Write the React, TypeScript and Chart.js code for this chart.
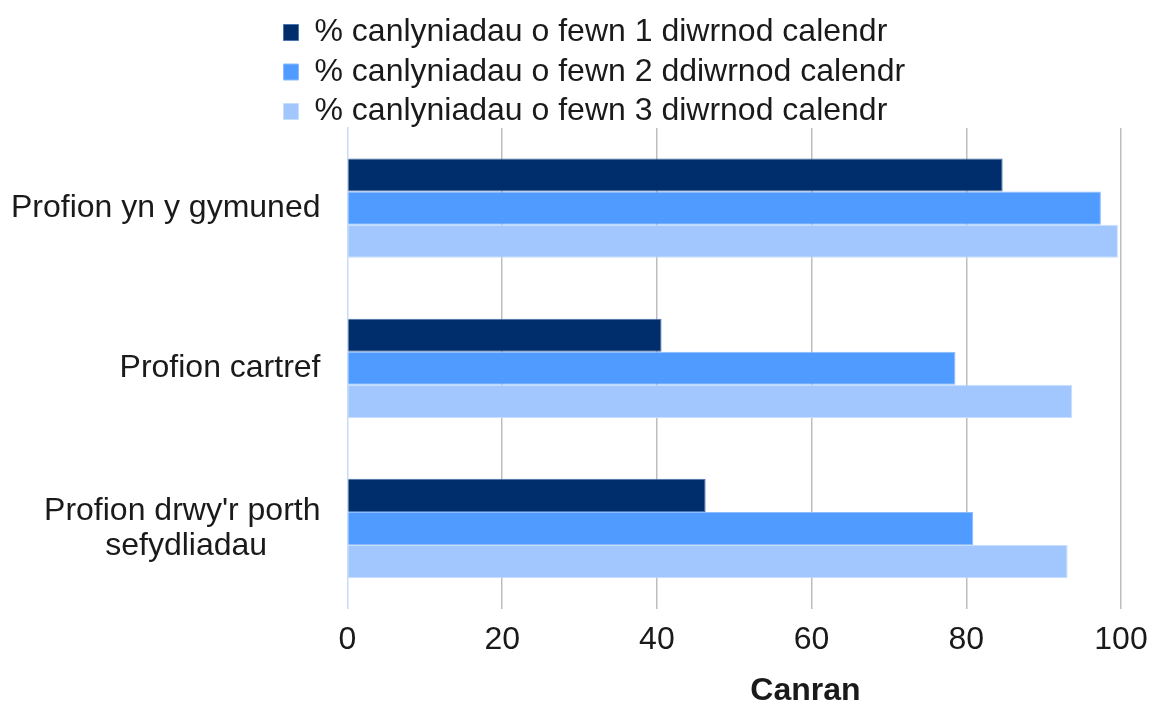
import React, { useEffect, useRef } from "react";
import { Chart, registerables } from "chart.js";

Chart.register(...registerables);

// ---- data ----
const categories: (string | string[])[] = [
  "Profion yn y gymuned",
  "Profion cartref",
  ["Profion drwy'r porth", "sefydliadau"],
];
const seriesNames = [
  "% canlyniadau o fewn 1 diwrnod calendr",
  "% canlyniadau o fewn 2 ddiwrnod calendr",
  "% canlyniadau o fewn 3 diwrnod calendr",
];
const within1Day = [84.7, 40.6, 46.3];
const within2Days = [97.4, 78.6, 80.9];
const within3Days = [99.6, 93.7, 93.1];
const xTickValues = [0, 20, 40, 60, 80, 100];
const xTitle = "Canran";

// ---- styles ----
const FONT = "'Liberation Sans', Arial, sans-serif";
const FILLS = ["#002d6b", "#4f9bff", "#a1c7fe"];
const EDGES = ["#4a74b0", "#8cbcff", "#c8defe"];
const TEXT = "#1a1a1a";
const TITLE_AT = 59.2; // axis value under centre of x title

const measureCtx = (() => {
  const c = document.createElement("canvas").getContext("2d")!;
  c.font = `32px ${FONT}`;
  return c;
})();

function centreLines(label: string | string[]) {
  if (!Array.isArray(label)) return label;
  const widths = label.map((l) => measureCtx.measureText(l).width);
  const max = Math.max(...widths);
  const sp = measureCtx.measureText(" ").width;
  return label.map((l, i) => l + " ".repeat(Math.round((max - widths[i]) / 2 / sp)));
}

const layoutTweaks = {
  id: "layoutTweaks",
  afterLayout(chart: any) {
    const lg = chart.legend;
    if (lg) {
      const dx = 276 - lg.left;
      lg.left += dx;
    }
  },
  afterDraw(chart: any) {
    const ctx = chart.ctx;
    const xs = chart.scales.x;
    ctx.save();
    ctx.font = `bold 32px ${FONT}`;
    ctx.fillStyle = TEXT;
    ctx.textAlign = "center";
    ctx.textBaseline = "middle";
    ctx.fillText(xTitle, xs.getPixelForValue(TITLE_AT), chart.height - 13);
    ctx.restore();
  },
};

export default function App() {
  const ref = useRef<HTMLCanvasElement | null>(null);

  useEffect(() => {
    if (!ref.current) return;
    const series = [within1Day, within2Days, within3Days];
    const chart = new Chart(ref.current, {
      type: "bar",
      data: {
        labels: categories as any,
        datasets: series.map((d, i) => ({
          label: seriesNames[i],
          data: d,
          backgroundColor: FILLS[i],
          borderColor: EDGES[i],
          borderWidth: 1,
          categoryPercentage: 0.62,
          barPercentage: 1.0,
        })),
      },
      options: {
        indexAxis: "y",
        animation: false,
        responsive: true,
        maintainAspectRatio: false,
        layout: { padding: { top: 9, left: -16, right: 0, bottom: 33 } },
        plugins: {
          tooltip: { enabled: false },
          legend: {
            position: "top",
            align: "start",
            maxHeight: 119,
            labels: {
              boxWidth: 15,
              boxHeight: 16,
              padding: 7.5,
              color: TEXT,
              font: { family: FONT, size: 32 },
            },
          },
        },
        scales: {
          x: {
            min: 0,
            max: 100,
            afterBuildTicks: (scale: any) => {
              scale.ticks = xTickValues.map((v) => ({ value: v }));
            },
            afterFit: (scale: any) => {
              scale.paddingRight = 28;
            },
            grid: {
              drawTicks: false,
              lineWidth: 1.5,
              color: (c: any) =>
                c.tick && c.tick.value === 0 ? "rgba(0,0,0,0)" : "#bdbdbd",
            },
            border: { display: false },
            ticks: {
              padding: 12,
              color: TEXT,
              font: { family: FONT, size: 32 },
              maxRotation: 0,
            },
          },
          y: {
            grid: { display: false, drawTicks: false },
            border: { display: true, color: "#c6dcf6", width: 1.5 },
            ticks: {
              padding: 27,
              color: TEXT,
              font: { family: FONT, size: 32, lineHeight: 1.08 },
              callback: function (this: any, value: any) {
                return centreLines(this.getLabelForValue(value));
              },
            },
          },
        },
      },
      plugins: [layoutTweaks],
    });
    return () => chart.destroy();
  }, []);

  return (
    <div style={{ position: "absolute", left: 0, top: 0, width: 1149, height: 704 }}>
      <canvas ref={ref} />
    </div>
  );
}
